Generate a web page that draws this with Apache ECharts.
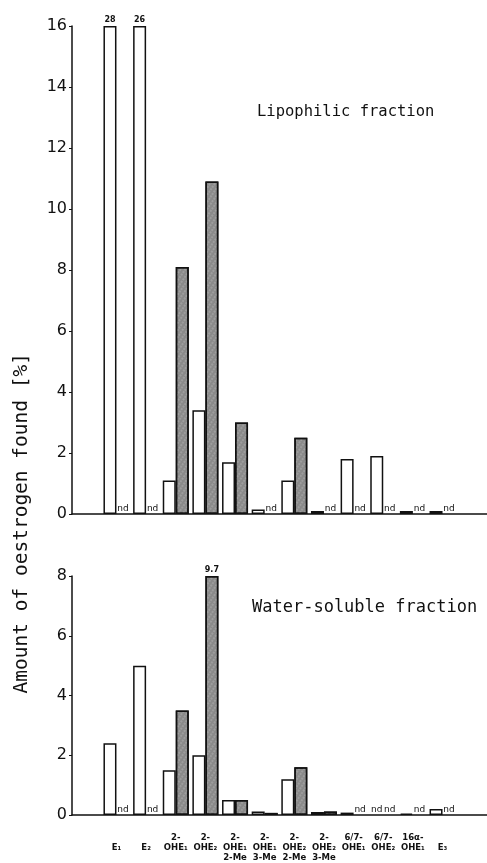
<!DOCTYPE html>
<html>
<head>
<meta charset="utf-8">
<title>Oestrogen fractions</title>
<script src="https://cdn.jsdelivr.net/npm/echarts@6/dist/echarts.min.js"></script>
<style>
  html, body { margin: 0; padding: 0; background: #fff; }
  #main { width: 487px; height: 863px; }
</style>
</head>
<body>
<div id="main"></div>
<script>
// categories (subscripts as unicode)
var categories = ['E₁', 'E₂', '2-\nOHE₁', '2-\nOHE₂', '2-\nOHE₁\n2-Me', '2-\nOHE₁\n3-Me',
                  '2-\nOHE₂\n2-Me', '2-\nOHE₂\n3-Me', '6/7-\nOHE₁', '6/7-\nOHE₂', '16α-\nOHE₁', 'E₃'];

// lipophilic fraction, null = nd
var lipoWhite = [28, 26, 1.1, 3.4, 1.7, 0.15, 1.1, 0.1, 1.8, 1.9, 0.1, 0.1];
var lipoGray  = [null, null, 8.1, 10.9, 3.0, null, 2.5, null, null, null, null, null];

// water-soluble fraction
var waterWhite = [2.4, 5.0, 1.5, 2.0, 0.5, 0.12, 1.2, 0.1, 0.08, null, 0.05, 0.2];
var waterGray  = [null, null, 3.5, 9.7, 0.5, 0.07, 1.6, 0.12, null, null, null, null];

var lipoMax = 16, waterMax = 8, tickStep = 2;

var font = 'DejaVu Sans';
var letterFont = 'DejaVu Sans Mono';

// bars above the axis max get cut and labelled, nd -> text on baseline
function toBars(vals, max) {
    var bars = vals.map(function (v) {
        if (v === null) {
            return {value: 0, itemStyle: {borderWidth: 0},
                    label: {show: true, formatter: 'nd', position: 'top', distance: 1,
                            fontSize: 9, fontFamily: font, color: '#111'}};
        }
        if (v > max) {
            return {value: max,
                    label: {show: true, formatter: String(v), position: 'top', distance: 2,
                            fontSize: 8, fontWeight: 'bold', fontFamily: font, color: '#111'}};
        }
        return v;
    });
    // empty slot before and after, like the original drawing
    return ['-'].concat(bars, ['-']);
}

var whiteStyle = {color: '#fff', borderColor: '#111', borderWidth: 1.5};
var grayStyle = {
    color: '#8a8a8a', borderColor: '#111', borderWidth: 1.5,
    decal: {symbol: 'circle', symbolSize: 0.7, dashArrayX: [[2, 2]], dashArrayY: [2, 1],
            color: 'rgba(255,255,255,0.45)', rotation: 0.6}
};

var axisCats = [''].concat(categories, ['']);

var dom = document.getElementById('main');
var myChart = echarts.init(dom, null, {renderer: 'canvas'});

var option = {
    animation: false,
    aria: {enabled: false},
    title: [
        {text: 'Lipophilic fraction', left: 252, top: 99,
         textStyle: {fontFamily: letterFont, fontSize: 15.5, fontWeight: 'normal', color: '#111'}},
        {text: 'Water-soluble fraction', left: 247, top: 594,
         textStyle: {fontFamily: letterFont, fontSize: 17, fontWeight: 'normal', color: '#111'}}
    ],
    graphic: [
        {type: 'text', left: 12, top: 353, rotation: Math.PI / 2,
         style: {text: 'Amount of oestrogen found [%]', fontFamily: letterFont, fontSize: 19.5, fill: '#111'}}
    ],
    grid: [
        {left: 72, right: -12, top: 26, height: 488},
        {left: 72, right: -12, top: 576, height: 240}
    ],
    xAxis: [
        {type: 'category', gridIndex: 0, data: axisCats,
         axisLine: {lineStyle: {color: '#111', width: 1.5}},
         axisTick: {show: false}, axisLabel: {show: false}},
        {type: 'category', gridIndex: 1, data: axisCats,
         axisLine: {lineStyle: {color: '#111', width: 1.5}},
         axisTick: {show: false},
         axisLabel: {interval: 0, margin: 18, fontSize: 8.5, fontWeight: 'bold', lineHeight: 10,
                     fontFamily: font, color: '#111',
                     formatter: function (v) { return v.indexOf('\n') < 0 && v ? '\n' + v : v; }}}
    ],
    yAxis: [
        {type: 'value', gridIndex: 0, min: 0, max: lipoMax, interval: tickStep,
         splitLine: {show: false},
         axisLine: {show: true, lineStyle: {color: '#111', width: 1.5}},
         axisTick: {show: true, length: 3, lineStyle: {color: '#111'}},
         axisLabel: {margin: 5, fontSize: 16, fontFamily: font, color: '#111'}},
        {type: 'value', gridIndex: 1, min: 0, max: waterMax, interval: tickStep,
         splitLine: {show: false},
         axisLine: {show: true, lineStyle: {color: '#111', width: 1.5}},
         axisTick: {show: true, length: 3, lineStyle: {color: '#111'}},
         axisLabel: {margin: 5, fontSize: 16, fontFamily: font, color: '#111'}}
    ],
    series: [
        {type: 'bar', xAxisIndex: 0, yAxisIndex: 0, barWidth: 13, barGap: '0%',
         itemStyle: whiteStyle, data: toBars(lipoWhite, lipoMax)},
        {type: 'bar', xAxisIndex: 0, yAxisIndex: 0, barWidth: 13, barGap: '0%',
         itemStyle: grayStyle, data: toBars(lipoGray, lipoMax)},
        {type: 'bar', xAxisIndex: 1, yAxisIndex: 1, barWidth: 13, barGap: '0%',
         itemStyle: whiteStyle, data: toBars(waterWhite, waterMax)},
        {type: 'bar', xAxisIndex: 1, yAxisIndex: 1, barWidth: 13, barGap: '0%',
         itemStyle: grayStyle, data: toBars(waterGray, waterMax)}
    ]
};

myChart.setOption(option, true);
</script>
</body>
</html>
